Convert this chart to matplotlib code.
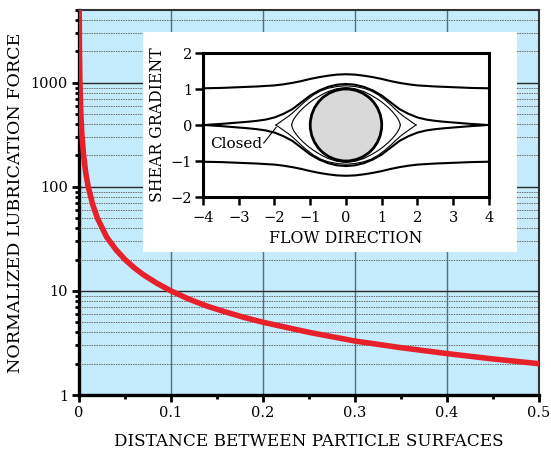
import matplotlib.pyplot as plt
from matplotlib.patches import Circle
from matplotlib.ticker import LogLocator, NullFormatter, FixedLocator

plt.rcParams['font.family'] = ['DejaVu Serif']

# main curve: normalized lubrication force vs gap
gap = [0.0002, 0.0005, 0.001, 0.002, 0.003, 0.005, 0.0075, 0.01, 0.015, 0.02,
       0.03, 0.04, 0.05, 0.06, 0.07, 0.085, 0.1, 0.12, 0.14, 0.16, 0.18, 0.2,
       0.25, 0.3, 0.35, 0.4, 0.45, 0.5]
force = [5000, 2000, 1000, 500, 330, 200, 133, 100, 67, 50,
         33, 25, 20, 16.7, 14.3, 11.8, 10, 8.3, 7.1, 6.25, 5.55, 5.0,
         4.0, 3.3, 2.85, 2.5, 2.22, 2.0]
x_ticks = [0, 0.1, 0.2, 0.3, 0.4, 0.5]
x_labels = ['0', '0.1', '0.2', '0.3', '0.4', '0.5']
y_ticks = [1, 10, 100, 1000]
y_labels = ['1', '10', '100', '1000']

# inset streamlines (upper halves; lower halves are mirror images)
outer_x = [-4, -3.75, -3.5, -3.25, -3, -2.75, -2.5, -2.25, -2, -1.75, -1.5, -1.25, -1,
           -0.75, -0.5, -0.25, 0, 0.25, 0.5, 0.75, 1, 1.25, 1.5, 1.75, 2, 2.25,
           2.5, 2.75, 3, 3.25, 3.5, 3.75, 4]
outer_y = [1.02, 1.025, 1.03, 1.04, 1.05, 1.06, 1.07, 1.085, 1.1, 1.13, 1.17, 1.22, 1.28,
           1.33, 1.37, 1.4, 1.41, 1.4, 1.37, 1.33, 1.28, 1.22, 1.17, 1.13, 1.1, 1.085,
           1.07, 1.06, 1.05, 1.04, 1.03, 1.025, 1.02]
sep_x = [-3.95, -3.75, -3.5, -3.25, -3, -2.75, -2.5, -2.25, -2, -1.75, -1.5, -1.25, -1,
         -0.75, -0.5, -0.25, 0, 0.25, 0.5, 0.75, 1, 1.25, 1.5, 1.75, 2, 2.25,
         2.5, 2.75, 3, 3.25, 3.5, 3.75, 3.95]
sep_y = [0, 0.015, 0.03, 0.05, 0.07, 0.09, 0.115, 0.15, 0.21, 0.31, 0.44, 0.63, 0.82,
         0.96, 1.06, 1.12, 1.14, 1.12, 1.06, 0.96, 0.82, 0.63, 0.44, 0.31, 0.21, 0.15,
         0.115, 0.09, 0.07, 0.05, 0.03, 0.015, 0]
orb1_x = [-1.96, -1.9, -1.8, -1.7, -1.6, -1.5, -1.4, -1.25, -1.1, -0.9, -0.7, -0.5, -0.25, 0,
          0.25, 0.5, 0.7, 0.9, 1.1, 1.25, 1.4, 1.5, 1.6, 1.7, 1.8, 1.9, 1.96]
orb1_y = [0, 0.04, 0.11, 0.18, 0.25, 0.33, 0.42, 0.56, 0.69, 0.84, 0.95, 1.02, 1.07, 1.09,
          1.07, 1.02, 0.95, 0.84, 0.69, 0.56, 0.42, 0.33, 0.25, 0.18, 0.11, 0.04, 0]
orb2_x = [-1.52, -1.5, -1.46, -1.4, -1.3, -1.2, -1.05, -0.9, -0.7, -0.5, -0.25, 0,
          0.25, 0.5, 0.7, 0.9, 1.05, 1.2, 1.3, 1.4, 1.46, 1.5, 1.52]
orb2_y = [0, 0.08, 0.16, 0.25, 0.37, 0.47, 0.6, 0.71, 0.83, 0.93, 1.01, 1.04,
          1.01, 0.93, 0.83, 0.71, 0.6, 0.47, 0.37, 0.25, 0.16, 0.08, 0]

fig = plt.figure(figsize=(5.51, 4.5), dpi=100)
ax = fig.add_axes([0.1434, 0.1222, 0.8348, 0.8556])
ax.set_facecolor('#c4ecfc')
ax.set_yscale('log')
ax.set_xlim(0, 0.5)
ax.set_ylim(1, 5000)

ax.plot(gap, force, color='#e8202a', lw=4.0, solid_capstyle='butt',
        solid_joinstyle='round', zorder=4)

# grid
for v in x_ticks[1:-1]:
    ax.axvline(v, color='#5b6b78', lw=1.0, zorder=1)
for v in y_ticks[1:]:
    ax.axhline(v, color='#2a2a2a', lw=1.0, zorder=1)
for dec in [1, 10, 100, 1000]:
    for m in range(2, 10):
        if dec * m < 5000:
            ax.axhline(dec * m, color='#6a6a6a', lw=0.7, ls=(0, (1.5, 1)), zorder=1)

ax.set_xticks(x_ticks)
ax.set_xticklabels(x_labels)
ax.xaxis.set_minor_locator(FixedLocator([0.05, 0.15, 0.25, 0.35, 0.45]))
ax.set_yticks(y_ticks)
ax.set_yticklabels(y_labels)
ax.yaxis.set_minor_locator(LogLocator(base=10, subs=range(2, 10)))
ax.yaxis.set_minor_formatter(NullFormatter())
ax.tick_params(which='major', direction='out', length=5, width=2, labelsize=10.5,
               color='black', pad=3)
ax.tick_params(which='minor', direction='out', length=3, width=2, color='black')
ax.tick_params(top=False, right=False)
for s in ['left', 'bottom']:
    ax.spines[s].set_linewidth(2.4)
    ax.spines[s].set_color('black')
for s in ['top', 'right']:
    ax.spines[s].set_linewidth(1.5)
    ax.spines[s].set_color('#333333')
ax.set_xlabel('DISTANCE BETWEEN PARTICLE SURFACES', fontsize=12.2, labelpad=9)
ax.set_ylabel('NORMALIZED LUBRICATION FORCE', fontsize=12.6, labelpad=5)

# white box behind the inset
box = fig.add_axes([0.2595, 0.44, 0.679, 0.489])
box.set_facecolor('white')
box.set_xticks([])
box.set_yticks([])
for s in box.spines.values():
    s.set_visible(False)

ins = fig.add_axes([0.3684, 0.5622, 0.519, 0.32])
ins.set_xlim(-4, 4)
ins.set_ylim(-2, 2)
ins.add_patch(Circle((0, 0), 1, facecolor='#d9d9d9', edgecolor='black', lw=2.0, zorder=3))
for xs, ys, lw in [(outer_x, outer_y, 1.5), (sep_x, sep_y, 1.5),
                   (orb1_x, orb1_y, 0.8), (orb2_x, orb2_y, 0.8)]:
    ins.plot(xs, ys, color='black', lw=lw, solid_joinstyle='round')
    ins.plot(xs, [-v for v in ys], color='black', lw=lw, solid_joinstyle='round')
ins.plot([-2.3, -1.95], [-0.5, -0.06], color='black', lw=0.8)
ins.text(-2.35, -0.53, 'Closed', fontsize=11, ha='right', va='center')
ins.set_xticks(range(-4, 5))
ins.set_xticklabels(['\u22124', '\u22123', '\u22122', '\u22121', '0', '1', '2', '3', '4'])
ins.set_yticks(range(-2, 3))
ins.set_yticklabels(['\u22122', '\u22121', '0', '1', '2'])
ins.tick_params(axis='x', direction='out', length=6, width=1.8, labelsize=10.5, pad=4)
ins.tick_params(axis='y', direction='out', length=6, width=1.8, labelsize=10.5, pad=2)
for s in ins.spines.values():
    s.set_linewidth(2.2)
ins.set_xlabel('FLOW DIRECTION', fontsize=11.3, labelpad=4)
ins.set_ylabel('SHEAR GRADIENT', fontsize=11.3, labelpad=3)

fig.savefig('out.png', dpi=100)
